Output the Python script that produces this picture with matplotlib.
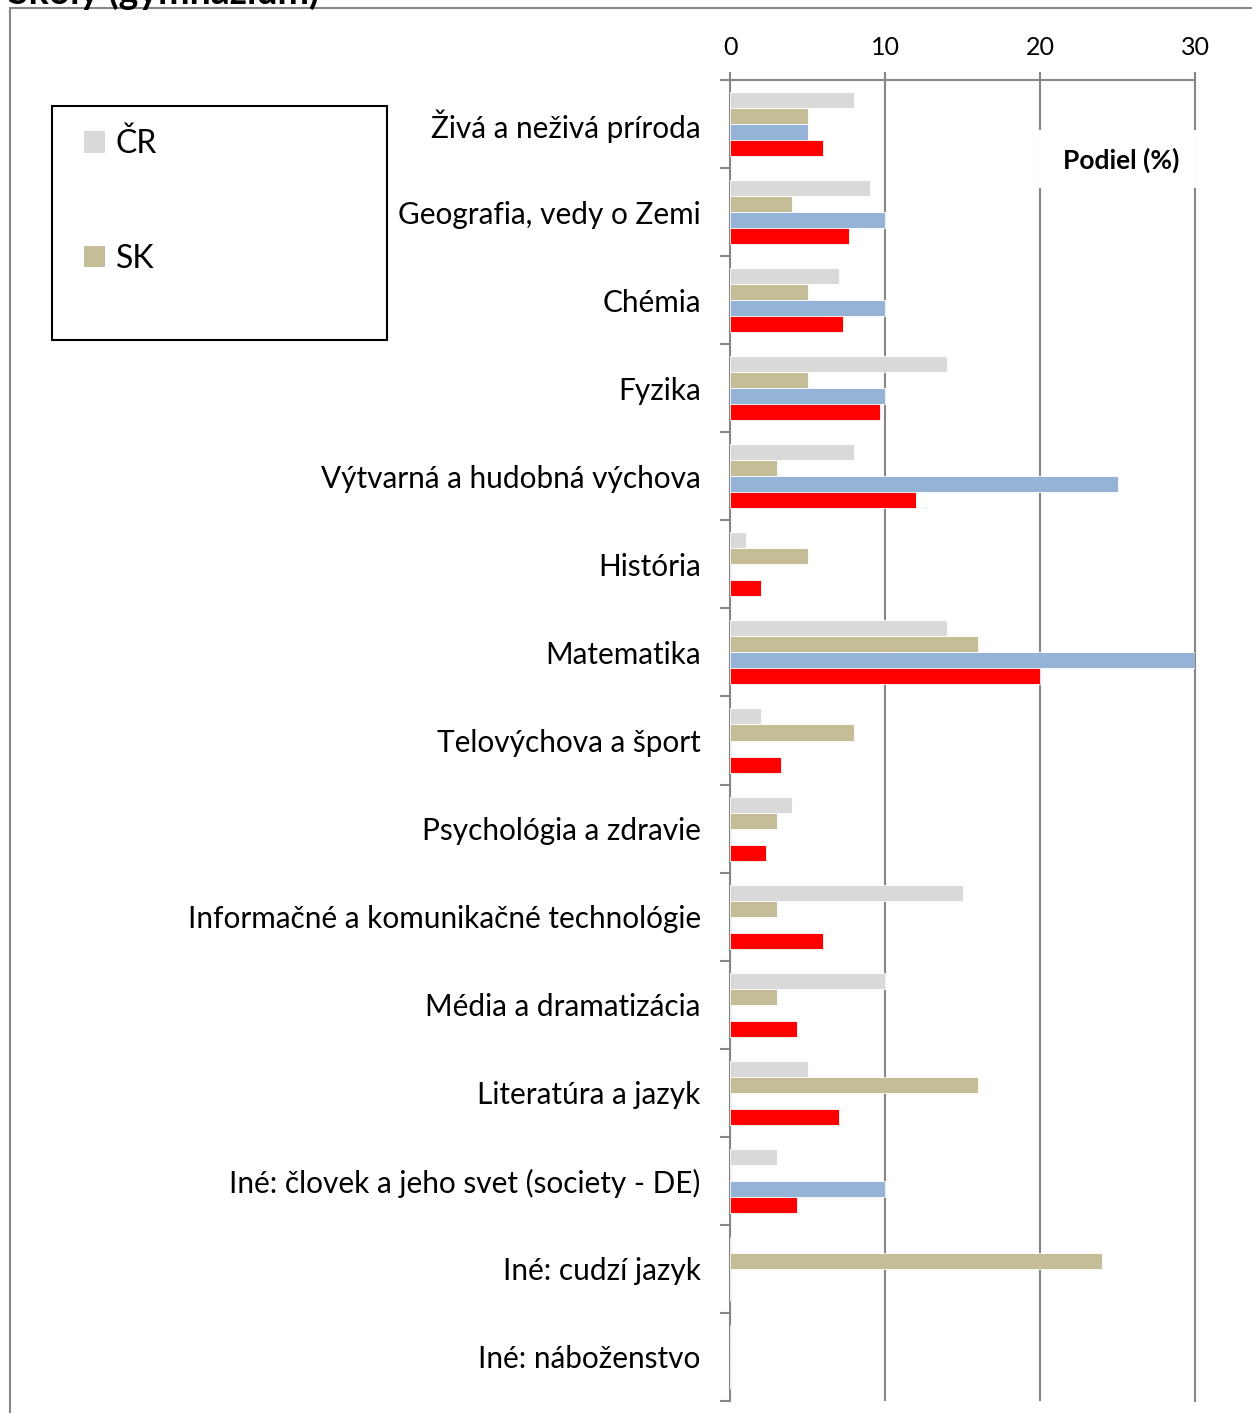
import numpy as np
import matplotlib
matplotlib.use("Agg")
import matplotlib.pyplot as plt
from matplotlib.patches import Rectangle, Patch

plt.rcParams['font.family'] = ['Lato', 'DejaVu Sans']

# data
categories = ["Živá a neživá príroda", "Geografia, vedy o Zemi", "Chémia", "Fyzika",
              "Výtvarná a hudobná výchova", "História", "Matematika",
              "Telovýchova a šport", "Psychológia a zdravie",
              "Informačné a komunikačné technológie", "Média a dramatizácia",
              "Literatúra a jazyk", "Iné: človek a jeho svet (society - DE)",
              "Iné: cudzí jazyk", "Iné: náboženstvo"]
cr = [8, 9, 7, 14, 8, 1, 14, 2, 4, 15, 10, 5, 3, 0, 0]
sk = [5, 4, 5, 5, 3, 5, 16, 8, 3, 3, 3, 16, 0, 24, 0]
s3 = [5, 10, 10, 10, 25, 0, 30, 0, 0, 0, 0, 0, 10, 0, 0]
s4 = [6, 7.65, 7.3, 9.65, 12, 2, 20, 3.3, 2.3, 6, 4.3, 7, 4.3, 0, 0]
xticks = [0, 10, 20, 30]

series = [("ČR", cr, "#D9D9D9"), ("SK", sk, "#C4BD97"),
          ("", s3, "#95B3D7"), ("", s4, "#FF0000")]

W, H = 1252, 1413
fig = plt.figure(figsize=(W / 100, H / 100), dpi=100)

# outer chart frame (only top and left edges visible)
fig.patches.append(Rectangle((10 / W, -0.05), 1.2, 1 - 8 / H + 0.05, transform=fig.transFigure,
                             fill=False, edgecolor="#868686", lw=1.5))
fig.text(8 / W, 1 - 4 / H, "Školy (gymnázium)", fontsize=27, fontweight="bold",
         ha="left", va="baseline")

ax = fig.add_axes([730 / W, 1 - 1401 / H, (1195 - 730) / W, (1401 - 80) / H])

y = np.arange(len(categories))
h = 16 / 88
for k, (name, vals, col) in enumerate(series):
    ax.barh(y + (k - 1.5) * h, vals, height=h, color=col, edgecolor="white",
            linewidth=0.6, zorder=3)

ax.set_xlim(0, 30)
ax.set_ylim(len(categories) - 0.5, -0.5)
ax.xaxis.tick_top()
ax.set_xticks(xticks)
ax.tick_params(axis="x", length=6, color="#868686", width=1.5, labelsize=18, pad=9)
ax.grid(axis="x", color="#868686", lw=1.5, zorder=0)

ax.set_yticks(y)
ax.set_yticklabels(categories, fontsize=21.4)
ax.set_yticks(np.arange(len(categories) + 1) - 0.5, minor=True)
ax.tick_params(axis="y", which="major", length=0, pad=21)
ax.tick_params(axis="y", which="minor", length=7, color="#868686", width=1.5)

ax.spines["bottom"].set_visible(False)
for s in ["top", "left", "right"]:
    ax.spines[s].set_color("#868686")
    ax.spines[s].set_linewidth(1.5)

# axis title on a white box that hides the gridlines behind it
ax.add_patch(Rectangle((19.93, 0.07), 10.14, 0.66, facecolor="white", edgecolor="none",
                       zorder=4, clip_on=False))
ax.text(1121, H - 160, "Podiel (%)", transform=None, fontsize=19, fontweight="bold",
        ha="center", va="center", zorder=5)

# legend box
fig.patches.append(Rectangle((52 / W, 1 - 340 / H), (387 - 52) / W, (340 - 106) / H,
                             transform=fig.transFigure, fill=False, edgecolor="black", lw=1.5))
handles = [Patch(facecolor=c, label=n) for n, v, c in series[:2]]
fig.legend(handles=handles, loc="upper left", bbox_to_anchor=(55 / W, 1 - 100 / H),
           frameon=False, fontsize=23, labelspacing=2.65, handlelength=0.65,
           handleheight=0.65, handletextpad=0.35)

fig.savefig("out.png", dpi=100)
